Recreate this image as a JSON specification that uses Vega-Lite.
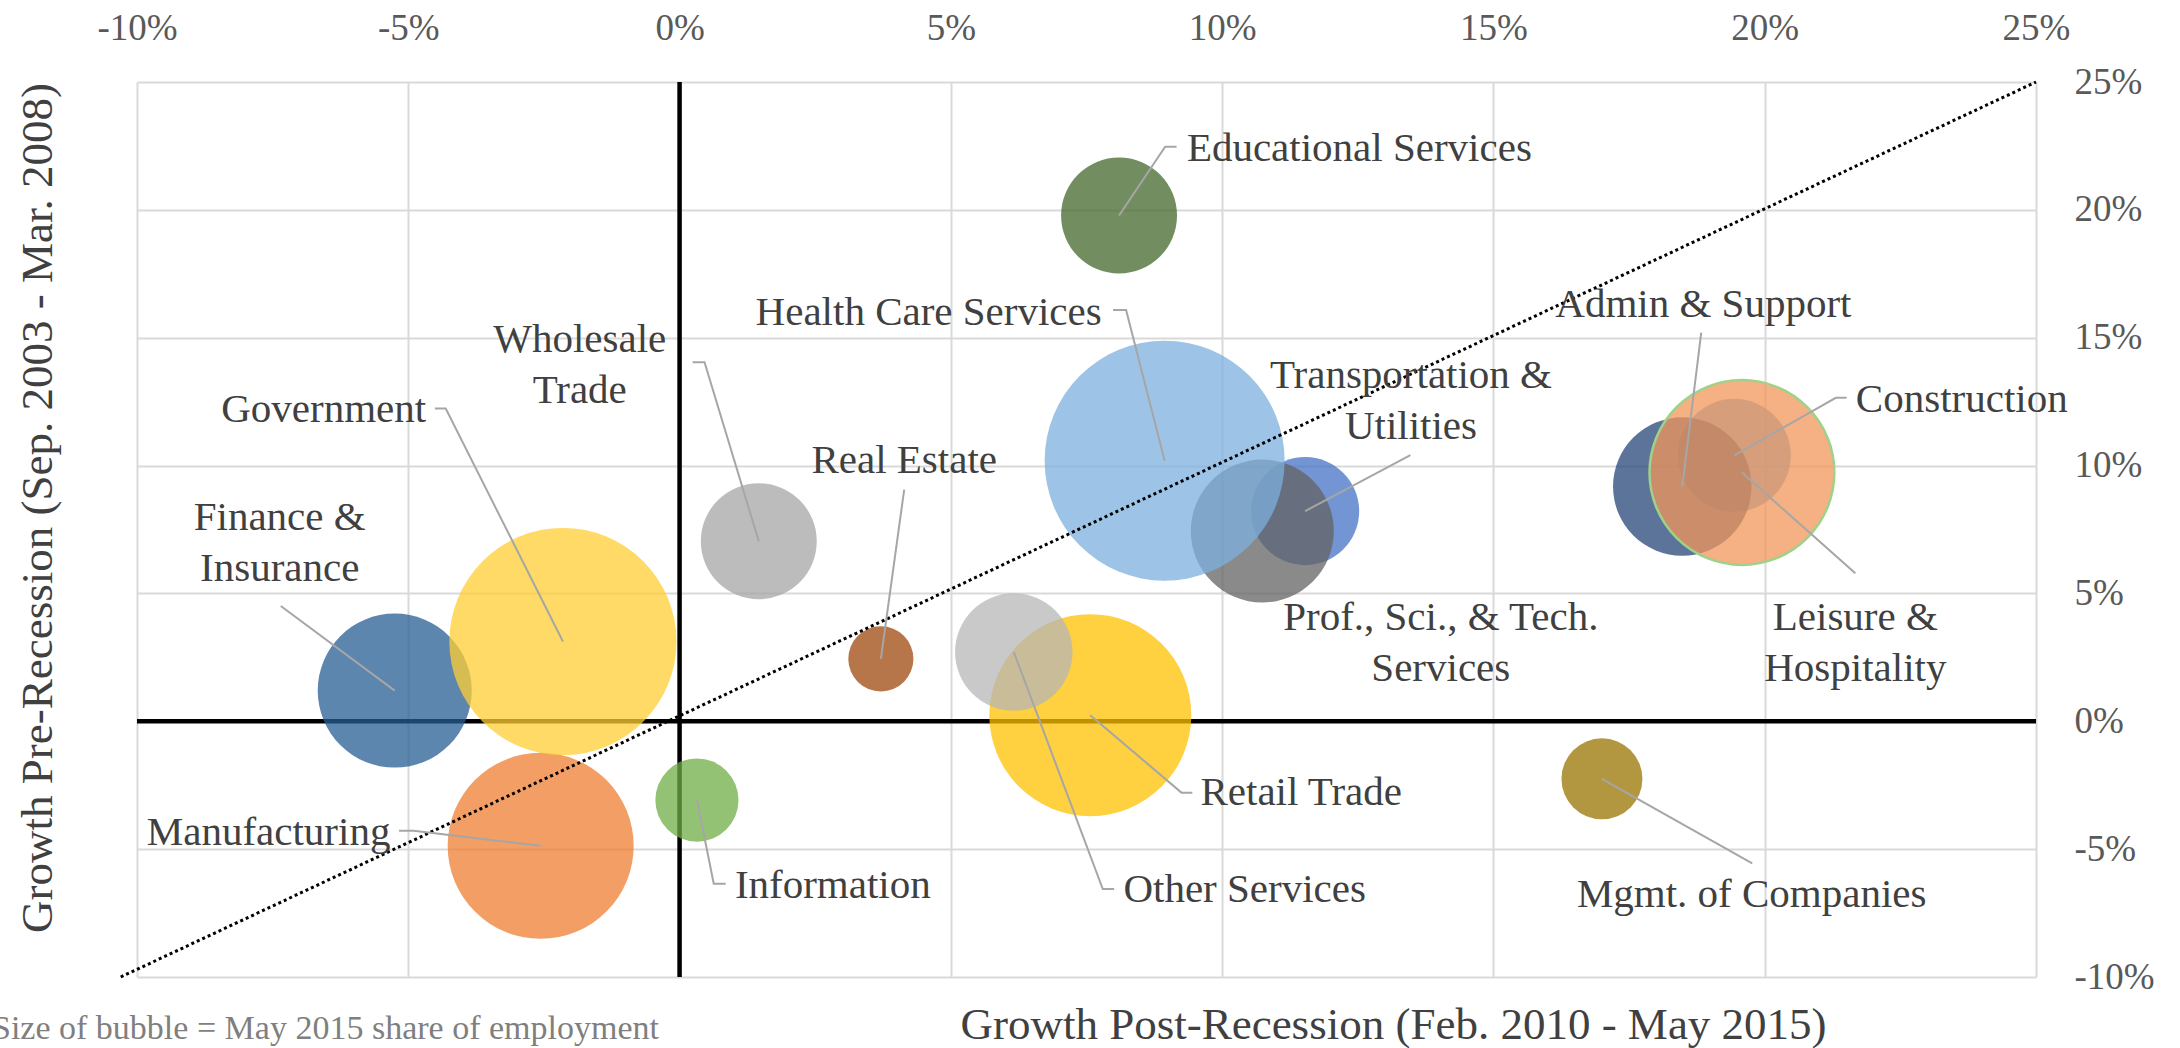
{
  "$schema": "https://vega.github.io/schema/vega-lite/v6.json",
  "width": 1899,
  "height": 895,
  "autosize": {"type": "none"},
  "padding": {"left": 137, "top": 82, "right": 144, "bottom": 71},
  "background": "white",
  "config": {"view": {"stroke": null}, "font": "Liberation Serif"},
  "title": {
    "text": "Size of bubble = May 2015 share of employment",
    "orient": "bottom",
    "anchor": "start",
    "frame": "group",
    "baseline": "alphabetic",
    "offset": -8,
    "dx": -145,
    "font": "Liberation Serif",
    "fontSize": 34,
    "fontWeight": "normal",
    "color": "#7f7f7f"
  },
  "datasets": {
    "bubbles": [
      {"name": "Construction", "x": 19.44, "y": 10.40, "share": 3.19},
      {"name": "Manufacturing", "x": -2.56, "y": -4.87, "share": 8.65},
      {"name": "Wholesale Trade", "x": 1.46, "y": 7.04, "share": 3.36},
      {"name": "Retail Trade", "x": 7.57, "y": 0.24, "share": 10.20},
      {"name": "Transportation & Utilities", "x": 11.53, "y": 8.22, "share": 2.92},
      {"name": "Information", "x": 0.32, "y": -3.08, "share": 1.73},
      {"name": "Finance & Insurance", "x": -5.25, "y": 1.20, "share": 5.93},
      {"name": "Real Estate", "x": 3.71, "y": 2.44, "share": 1.06},
      {"name": "Prof., Sci., & Tech. Services", "x": 10.74, "y": 7.44, "share": 5.11},
      {"name": "Mgmt. of Companies", "x": 17.00, "y": -2.25, "share": 1.64},
      {"name": "Admin & Support", "x": 18.48, "y": 9.18, "share": 4.79},
      {"name": "Educational Services", "x": 8.10, "y": 19.78, "share": 3.36},
      {"name": "Health Care Services", "x": 8.94, "y": 10.19, "share": 14.40},
      {"name": "Leisure & Hospitality", "x": 19.58, "y": 9.73, "share": 8.54},
      {"name": "Other Services", "x": 6.16, "y": 2.71, "share": 3.45},
      {"name": "Government", "x": -2.15, "y": 3.12, "share": 12.90}
    ],
    "leaders": [
      {"name": "Educational Services", "seq": 1, "x": 8.10, "y": 19.78},
      {"name": "Educational Services", "seq": 2, "x": 8.95, "y": 22.47},
      {"name": "Educational Services", "seq": 3, "x": 9.16, "y": 22.47},
      {"name": "Health Care Services", "seq": 1, "x": 8.94, "y": 10.19},
      {"name": "Health Care Services", "seq": 2, "x": 8.23, "y": 16.08},
      {"name": "Health Care Services", "seq": 3, "x": 7.99, "y": 16.08},
      {"name": "Transportation & Utilities", "seq": 1, "x": 11.53, "y": 8.22},
      {"name": "Transportation & Utilities", "seq": 2, "x": 13.47, "y": 10.41},
      {"name": "Admin & Support", "seq": 1, "x": 18.48, "y": 9.18},
      {"name": "Admin & Support", "seq": 2, "x": 18.83, "y": 15.20},
      {"name": "Construction", "seq": 1, "x": 19.44, "y": 10.40},
      {"name": "Construction", "seq": 2, "x": 21.31, "y": 12.65},
      {"name": "Construction", "seq": 3, "x": 21.51, "y": 12.65},
      {"name": "Leisure & Hospitality", "seq": 1, "x": 19.58, "y": 9.73},
      {"name": "Leisure & Hospitality", "seq": 2, "x": 21.67, "y": 5.79},
      {"name": "Mgmt. of Companies", "seq": 1, "x": 17.00, "y": -2.25},
      {"name": "Mgmt. of Companies", "seq": 2, "x": 19.77, "y": -5.56},
      {"name": "Retail Trade", "seq": 1, "x": 7.57, "y": 0.24},
      {"name": "Retail Trade", "seq": 2, "x": 9.25, "y": -2.79},
      {"name": "Retail Trade", "seq": 3, "x": 9.45, "y": -2.79},
      {"name": "Other Services", "seq": 1, "x": 6.16, "y": 2.71},
      {"name": "Other Services", "seq": 2, "x": 7.80, "y": -6.56},
      {"name": "Other Services", "seq": 3, "x": 8.01, "y": -6.56},
      {"name": "Information", "seq": 1, "x": 0.32, "y": -3.08},
      {"name": "Information", "seq": 2, "x": 0.63, "y": -6.35},
      {"name": "Information", "seq": 3, "x": 0.85, "y": -6.35},
      {"name": "Real Estate", "seq": 1, "x": 3.71, "y": 2.44},
      {"name": "Real Estate", "seq": 2, "x": 4.14, "y": 9.06},
      {"name": "Wholesale Trade", "seq": 1, "x": 1.46, "y": 7.04},
      {"name": "Wholesale Trade", "seq": 2, "x": 0.46, "y": 14.04},
      {"name": "Wholesale Trade", "seq": 3, "x": 0.24, "y": 14.04},
      {"name": "Government", "seq": 1, "x": -2.15, "y": 3.12},
      {"name": "Government", "seq": 2, "x": -4.31, "y": 12.23},
      {"name": "Government", "seq": 3, "x": -4.51, "y": 12.23},
      {"name": "Finance & Insurance", "seq": 1, "x": -5.25, "y": 1.20},
      {"name": "Finance & Insurance", "seq": 2, "x": -7.35, "y": 4.51},
      {"name": "Manufacturing", "seq": 1, "x": -2.56, "y": -4.87},
      {"name": "Manufacturing", "seq": 2, "x": -4.90, "y": -4.28},
      {"name": "Manufacturing", "seq": 3, "x": -5.17, "y": -4.28}
    ],
    "labelsLeft": [
      {"label": "Educational Services", "x": 9.35, "y": 21.91},
      {"label": "Construction", "x": 21.68, "y": 12.09},
      {"label": "Retail Trade", "x": 9.60, "y": -3.28},
      {"label": "Other Services", "x": 8.18, "y": -7.05},
      {"label": "Information", "x": 1.02, "y": -6.91}
    ],
    "labelsRight": [
      {"label": "Health Care Services", "x": 7.78, "y": 15.50},
      {"label": "Government", "x": -4.67, "y": 11.72},
      {"label": "Manufacturing", "x": -5.33, "y": -4.85}
    ],
    "labelsCenter": [
      {"label": "Transportation &\nUtilities", "x": 13.48, "y": 13.03},
      {"label": "Prof., Sci., & Tech.\nServices", "x": 14.03, "y": 3.57},
      {"label": "Admin & Support", "x": 18.87, "y": 15.82},
      {"label": "Leisure &\nHospitality", "x": 21.67, "y": 3.57},
      {"label": "Mgmt. of Companies", "x": 19.76, "y": -7.25},
      {"label": "Real Estate", "x": 4.14, "y": 9.69},
      {"label": "Wholesale\nTrade", "x": -1.84, "y": 14.45},
      {"label": "Finance &\nInsurance", "x": -7.37, "y": 7.48}
    ],
    "diagonal": [
      {"x": -10.3, "y": -10},
      {"x": 25, "y": 25}
    ],
    "zeroV": [{"x": 0, "y": -10, "y2": 25}],
    "zeroH": [{"x": -10, "x2": 25, "y": 0}]
  },
  "encoding": {
    "x": {
      "field": "x", "type": "quantitative",
      "scale": {"domain": [-10, 25], "nice": false, "zero": false},
      "axis": {
        "orient": "top",
        "values": [-10, -5, 0, 5, 10, 15, 20, 25],
        "labelExpr": "datum.value + '%'",
        "ticks": false, "tickSize": 0, "domain": false,
        "grid": true, "gridColor": "#d9d9d9", "gridWidth": 2,
        "labelFont": "Liberation Serif", "labelFontSize": 37, "labelColor": "#595959",
        "labelPadding": 43, "labelBaseline": "alphabetic", "labelFlush": false, "labelOverlap": false,
        "title": "Growth Post-Recession (Feb. 2010 - May 2015)",
        "titleFont": "Liberation Serif", "titleFontSize": 45, "titleFontWeight": "normal", "titleColor": "#404040",
        "titleX": 1256, "titleY": 956, "titleAlign": "center", "titleBaseline": "alphabetic"
      }
    },
    "y": {
      "field": "y", "type": "quantitative",
      "scale": {"domain": [-10, 25], "nice": false, "zero": false},
      "axis": {
        "orient": "right",
        "values": [-10, -5, 0, 5, 10, 15, 20, 25],
        "labelExpr": "datum.value + '%'",
        "ticks": false, "tickSize": 0, "domain": false,
        "grid": true, "gridColor": "#d9d9d9", "gridWidth": 2,
        "labelFont": "Liberation Serif", "labelFontSize": 37, "labelColor": "#595959",
        "labelPadding": 38, "labelAlign": "left", "labelBaseline": "middle", "labelFlush": false, "labelOverlap": false,
        "title": "Growth Pre-Recession (Sep. 2003 - Mar. 2008)",
        "titleFont": "Liberation Serif", "titleFontSize": 45, "titleFontWeight": "normal", "titleColor": "#404040",
        "titleX": -1985, "titleY": 425.5, "titleAngle": 270, "titleAlign": "center", "titleBaseline": "alphabetic"
      }
    }
  },
  "layer": [
    {
      "data": {"name": "zeroV"},
      "mark": {"type": "rule", "color": "#000000", "strokeWidth": 4.5},
      "encoding": {"y2": {"field": "y2"}}
    },
    {
      "data": {"name": "zeroH"},
      "mark": {"type": "rule", "color": "#000000", "strokeWidth": 4.5},
      "encoding": {"x2": {"field": "x2"}}
    },
    {
      "data": {"name": "bubbles"},
      "mark": {"type": "circle", "fillOpacity": 0.75, "stroke": "#9fd18a", "strokeOpacity": 1},
      "encoding": {
        "size": {"field": "share", "type": "quantitative", "scale": {"domain": [0, 10], "range": [0, 40000]}, "legend": null},
        "color": {
          "field": "name", "type": "nominal", "legend": null,
          "scale": {
            "domain": ["Construction", "Manufacturing", "Wholesale Trade", "Retail Trade", "Transportation & Utilities", "Information", "Finance & Insurance", "Real Estate", "Prof., Sci., & Tech. Services", "Mgmt. of Companies", "Admin & Support", "Educational Services", "Health Care Services", "Leisure & Hospitality", "Other Services", "Government"],
            "range": ["#5b9bd5", "#ed7d31", "#a5a5a5", "#ffc000", "#4472c4", "#70ad47", "#255e91", "#9e480e", "#636363", "#997300", "#264478", "#43682b", "#7cafdd", "#f1975a", "#b7b7b7", "#ffcd33"]
          }
        },
        "strokeWidth": {"condition": {"test": "datum.name === 'Leisure & Hospitality'", "value": 2.5}, "value": 0}
      }
    },
    {
      "data": {"name": "diagonal"},
      "mark": {"type": "line", "color": "#000000", "strokeWidth": 3, "strokeDash": [3, 3], "clip": false},
      "encoding": {}
    },
    {
      "data": {"name": "leaders"},
      "mark": {"type": "line", "color": "#a6a6a6", "strokeWidth": 2},
      "encoding": {
        "detail": {"field": "name", "type": "nominal"},
        "order": {"field": "seq", "type": "quantitative"}
      }
    },
    {
      "data": {"name": "labelsLeft"},
      "mark": {"type": "text", "align": "left", "baseline": "alphabetic", "font": "Liberation Serif", "fontSize": 41, "color": "#404040", "lineBreak": "\n", "lineHeight": 51},
      "encoding": {"text": {"field": "label", "type": "nominal"}}
    },
    {
      "data": {"name": "labelsRight"},
      "mark": {"type": "text", "align": "right", "baseline": "alphabetic", "font": "Liberation Serif", "fontSize": 41, "color": "#404040", "lineBreak": "\n", "lineHeight": 51},
      "encoding": {"text": {"field": "label", "type": "nominal"}}
    },
    {
      "data": {"name": "labelsCenter"},
      "mark": {"type": "text", "align": "center", "baseline": "alphabetic", "font": "Liberation Serif", "fontSize": 41, "color": "#404040", "lineBreak": "\n", "lineHeight": 51},
      "encoding": {"text": {"field": "label", "type": "nominal"}}
    }
  ]
}
